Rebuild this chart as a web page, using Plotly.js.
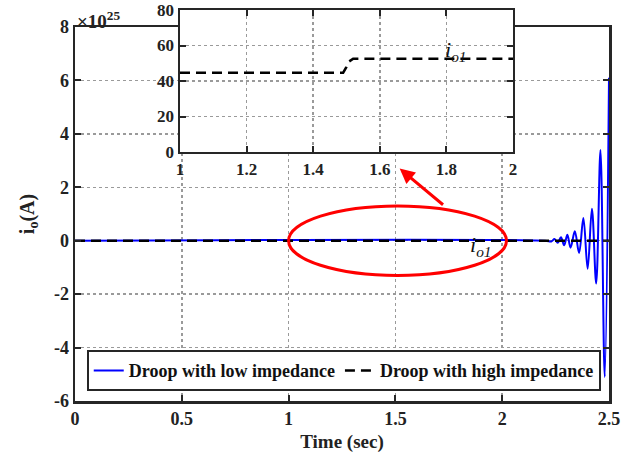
<!DOCTYPE html>
<html><head><meta charset="utf-8">
<script src="https://cdn.plot.ly/plotly-3.0.1.min.js"></script>
<style>html,body{margin:0;padding:0;background:#fff}#c{width:632px;height:453px}</style>
</head><body><div id="c"></div>
<script>
// Main plot: current in units of 1e25 A
const tLow = [0, 2.20, 2.23, 2.245, 2.26, 2.275, 2.29, 2.305, 2.32, 2.34, 2.36, 2.38, 2.40, 2.42, 2.44, 2.46, 2.48, 2.50];
const iLow = [0, 0, -0.03, 0.06, -0.08, 0.13, -0.17, 0.22, -0.26, 0.35, -0.46, 0.85, -1.05, 1.2, -1.6, 3.4, -5.1, 6.1];
const tHigh = [0, 2.5];
const iHigh = [0, 0];
// Inset: high impedance droop current (A)
const tInset = [1, 1.49, 1.5, 1.508, 1.52, 2];
const iInset = [44.7, 44.7, 48, 51, 52.6, 52.6];
const xTicks = [0, 0.5, 1, 1.5, 2, 2.5];
const yTicks = [-6, -4, -2, 0, 2, 4, 6, 8];
const xTicksInset = [1, 1.2, 1.4, 1.6, 1.8, 2];
const yTicksInset = [0, 20, 40, 60, 80];

const F = 'Liberation Serif, Times New Roman, serif';
const axCol = '#262626';
const gridCol = '#9a9a9a';

const traces = [
  {x: tLow, y: iLow, type: 'scatter', mode: 'lines', name: 'Droop with low impedance',
   line: {color: '#0000ff', width: 2, shape: 'spline', smoothing: 1}, xaxis: 'x', yaxis: 'y'},
  {x: tHigh, y: iHigh, type: 'scatter', mode: 'lines', name: 'Droop with high impedance',
   line: {color: '#000000', width: 2.5, dash: '10px,6px'}, xaxis: 'x', yaxis: 'y'},
  {x: tInset, y: iInset, type: 'scatter', mode: 'lines', showlegend: false,
   line: {color: '#000000', width: 2.5, dash: '10px,6px'}, xaxis: 'x2', yaxis: 'y2'}
];

const axBase = {
  showline: true, linecolor: axCol, linewidth: 2.5, mirror: 'ticks',
  ticks: 'inside', ticklen: 6, tickwidth: 2, tickcolor: axCol,
  showgrid: true, gridcolor: gridCol, griddash: 'dot', gridwidth: 1.5,
  zeroline: false, fixedrange: true,
  tickfont: {family: F, size: 18, color: '#222', weight: 'bold'}
};

const layout = {
  width: 632, height: 453,
  margin: {l: 75, r: 23, t: 10, b: 52},
  paper_bgcolor: '#ffffff', plot_bgcolor: '#ffffff',
  showlegend: true,
  legend: {orientation: 'h', x: 0.022, y: 0.025, xanchor: 'left', yanchor: 'bottom',
    bgcolor: '#ffffff', bordercolor: axCol, borderwidth: 2,
    font: {family: F, size: 18, color: '#111', weight: 'bold'},
    itemwidth: 30, tracegroupgap: 0},
  xaxis: Object.assign({}, axBase, {domain: [0, 1], anchor: 'y', range: [0, 2.5],
    tickvals: xTicks, ticktext: xTicks.map(String),
    title: {text: 'Time (sec)', font: {family: F, size: 19, color: '#222', weight: 'bold'}, standoff: 8}}),
  yaxis: Object.assign({}, axBase, {domain: [0, 0.95652], anchor: 'x', range: [-6, 8],
    tickvals: yTicks, ticktext: yTicks.map(String),
    title: {text: 'i<sub>o</sub>(A)', font: {family: F, size: 20, color: '#222', weight: 'bold'}, standoff: 14}}),
  xaxis2: Object.assign({}, axBase, {domain: [0.19663, 0.82022], anchor: 'y2', range: [1, 2],
    tickvals: xTicksInset, ticktext: xTicksInset.map(String),
    tickfont: {family: F, size: 17, color: '#222', weight: 'bold'}}),
  yaxis2: Object.assign({}, axBase, {domain: [0.63683, 1], anchor: 'x2', range: [0, 80],
    tickvals: yTicksInset, ticktext: yTicksInset.map(String),
    tickfont: {family: F, size: 17, color: '#222', weight: 'bold'}}),
  shapes: [
    {type: 'circle', xref: 'x', yref: 'y', x0: 1.0, x1: 2.02, y0: -1.3, y1: 1.3,
     line: {color: '#ff0000', width: 3}, fillcolor: 'rgba(0,0,0,0)', layer: 'above'}
  ],
  annotations: [
    {xref: 'paper', yref: 'paper', x: 0.0, y: 0.975, xanchor: 'left', yanchor: 'middle',
     text: '×10<sup>25</sup>', showarrow: false, font: {family: F, size: 19, color: '#222', weight: 'bold'}},
    {xref: 'x', yref: 'y', x: 1.9, y: -0.2, text: '<i>i<sub>o1</sub></i>', showarrow: false,
     font: {family: F, size: 22, color: '#111'}},
    {xref: 'x2', yref: 'y2', x: 1.83, y: 57, text: '<i>i<sub>o1</sub></i>', showarrow: false,
     font: {family: F, size: 22, color: '#111'}},
    {xref: 'x', yref: 'y', axref: 'x', ayref: 'y', x: 1.52, y: 2.7, ax: 1.73, ay: 1.3,
     text: '', showarrow: true, arrowhead: 2, arrowsize: 1, arrowwidth: 3, arrowcolor: '#ff0000'}
  ]
};

Plotly.newPlot('c', traces, layout, {staticPlot: true, displayModeBar: false});
</script></body></html>
